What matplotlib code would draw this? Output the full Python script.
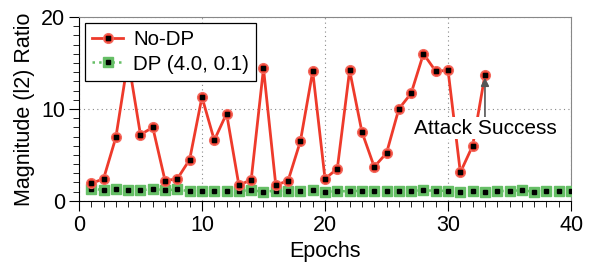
import matplotlib
matplotlib.use("Agg")
import matplotlib.pyplot as plt
from matplotlib.lines import Line2D
from matplotlib.legend_handler import HandlerTuple
from matplotlib.ticker import MultipleLocator

plt.rcParams['font.family'] = ['Liberation Sans', 'DejaVu Sans']

epochs = list(range(1, 41))
nodp_epochs = list(range(1, 34))
nodp_values = [1.9, 2.4, 6.9, 15.4, 7.2, 8.0, 2.2, 2.4, 4.5, 11.3,
               6.6, 9.5, 1.7, 2.3, 14.4, 1.7, 2.2, 6.5, 14.1, 2.4,
               3.5, 14.2, 7.5, 3.7, 5.2, 10.0, 11.7, 16.0, 14.1, 14.2,
               3.1, 6.0, 13.7]
dp_values = [1.3, 1.2, 1.25, 1.2, 1.15, 1.3, 1.15, 1.25, 1.05, 1.1,
             1.1, 1.1, 1.1, 1.15, 1.0, 1.1, 1.1, 1.1, 1.15, 1.0,
             1.05, 1.05, 1.1, 1.05, 1.1, 1.1, 1.1, 1.15, 1.1, 1.1,
             1.0, 1.1, 1.0, 1.05, 1.1, 1.15, 1.0, 1.1, 1.1, 1.05]
xticks = [0, 10, 20, 30, 40]
yticks = [0, 10, 20]

red = '#ee3a2b'
green = '#66bf66'

fig = plt.figure(figsize=(5.98, 2.70), dpi=100)
ax = fig.add_axes([0.132, 0.256, 0.823, 0.681])

ax.plot(epochs, dp_values, color=green, ls=':', lw=1.8, marker='s', ms=7,
        mfc=green, mec=green, zorder=3)
ax.plot(epochs, dp_values, ls='none', marker='s', ms=2.2, color='black', zorder=4)
ax.plot(nodp_epochs, nodp_values, color=red, lw=2.0, marker='o', ms=7,
        mfc=red, mec='#f46a5e', zorder=5)
ax.plot(nodp_epochs, nodp_values, ls='none', marker='s', ms=2.2, color='black', zorder=6)

ax.set_xlim(0, 40)
ax.set_ylim(0, 20)
ax.set_xticks(xticks)
ax.set_yticks(yticks)
ax.xaxis.set_minor_locator(MultipleLocator(1))
ax.yaxis.set_minor_locator(MultipleLocator(1))
ax.tick_params(which='major', direction='out', length=7, width=0.8, labelsize=15.5, pad=3)
ax.tick_params(which='minor', direction='out', length=4, width=0.6)
ax.grid(True, which='major', ls=(0, (1, 3)), color='#888888', lw=0.8)
for s in ['top', 'right']:
    ax.spines[s].set_color('#888888')
for s in ['left', 'bottom']:
    ax.spines[s].set_color('black')

ax.set_xlabel('Epochs', fontsize=15.5, labelpad=4)
ax.set_ylabel('Magnitude (l2) Ratio', fontsize=15.5, labelpad=4)

ax.annotate('Attack Success', xy=(33, 13.7), xytext=(33, 7.9),
            ha='center', va='center', fontsize=15, zorder=10,
            bbox=dict(fc='white', ec='none', pad=1),
            arrowprops=dict(arrowstyle='-|>', color='#555555', lw=1.2,
                            shrinkA=0, shrinkB=2, mutation_scale=12))

h1 = (Line2D([], [], color=red, lw=2.0, marker='o', ms=7, mfc=red, mec='#f46a5e'),
      Line2D([], [], ls='none', marker='s', ms=2.2, color='black'))
h2 = (Line2D([], [], color=green, ls=':', lw=1.8, marker='s', ms=7, mfc=green, mec=green),
      Line2D([], [], ls='none', marker='s', ms=2.2, color='black'))
leg = ax.legend([h1, h2], ['No-DP', 'DP (4.0, 0.1)'], loc='upper left',
                handler_map={tuple: HandlerTuple(ndivide=1, pad=0)},
                fontsize=14.8, frameon=True, fancybox=False, framealpha=1,
                edgecolor='black', handlelength=1.5, handletextpad=0.5,
                borderpad=0.35, labelspacing=0.25, borderaxespad=0.3, numpoints=1)
leg.get_frame().set_linewidth(0.9)
leg.set_zorder(20)

fig.savefig('out.png', dpi=100)
